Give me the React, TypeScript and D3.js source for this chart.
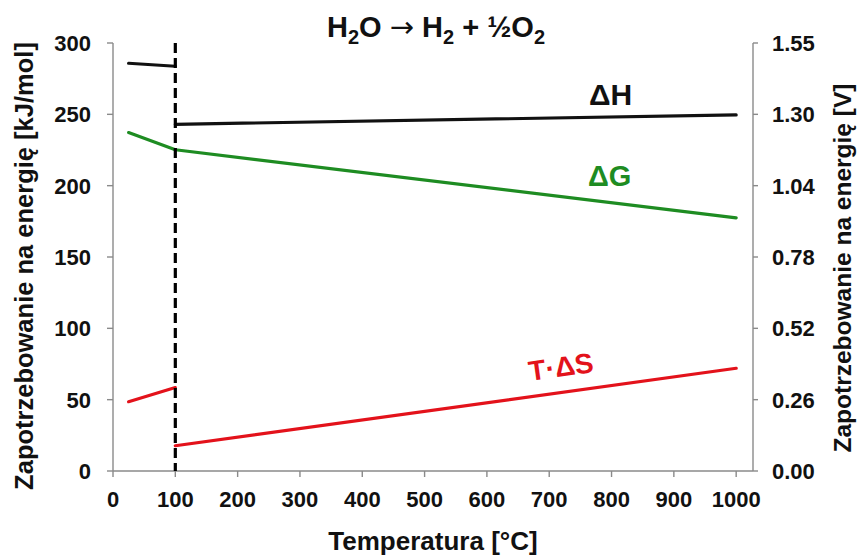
import React from "react";
import { scaleLinear, line } from "d3";

// temperatures [°C]
const liquidT = [25, 100];
const gasT = [100, 1000];

// energy demand [kJ/mol]
const dHLiquid = [285.8, 283.7];
const dHGas = [243.0, 249.6];
const dGLiquid = [237.2, 225.2];
const dGGas = [225.2, 177.4];
const tdsLiquid = [48.6, 58.5];
const tdsGas = [17.7, 72.0];

const xTicks = [0, 100, 200, 300, 400, 500, 600, 700, 800, 900, 1000];
const yLeftTicks = [0, 50, 100, 150, 200, 250, 300];
const yRightTicks = ["0.00", "0.26", "0.52", "0.78", "1.04", "1.30", "1.55"];

const FARADAY2 = 2 * 96.485; // kJ/mol per V

const W = 868;
const H = 556;
const font = "'Liberation Sans', Arial, sans-serif";
const axisColor = "#8a8a8a";
const green = "#1e8c22";
const red = "#e3121b";

const App = () => {
  const x = scaleLinear().domain([0, 1027]).range([113, 753]);
  const y = scaleLinear().domain([0, 300]).range([471, 43]);
  const yR = scaleLinear().domain([0, 300 / FARADAY2]).range([471, 43]);

  const path = line<[number, number]>()
    .x((d) => x(d[0]))
    .y((d) => y(d[1]));
  const seg = (ts: number[], vs: number[]) =>
    path(ts.map((t, i) => [t, vs[i]] as [number, number])) || "";

  const series = [
    { d: seg(liquidT, dHLiquid), c: "#111" },
    { d: seg(gasT, dHGas), c: "#111" },
    { d: seg(liquidT, dGLiquid), c: green },
    { d: seg(gasT, dGGas), c: green },
    { d: seg(liquidT, tdsLiquid), c: red },
    { d: seg(gasT, tdsGas), c: red },
  ];

  return (
    <svg
      width={W}
      height={H}
      style={{ position: "absolute", left: 0, top: 0, background: "#fff" }}
      fontFamily={font}
      fontWeight="bold"
    >
      {/* axes */}
      <g stroke={axisColor} strokeWidth={1.4} fill="none">
        <line x1={113} x2={113} y1={y(300)} y2={y(0)} />
        <line x1={753} x2={753} y1={yR(300 / FARADAY2)} y2={yR(0)} />
        <line x1={113} x2={753} y1={y(0)} y2={y(0)} />
        {yLeftTicks.map((t) => (
          <line key={"l" + t} x1={107} x2={113} y1={y(t)} y2={y(t)} />
        ))}
        {yRightTicks.map((t, i) => (
          <line key={"r" + t} x1={753} x2={758} y1={y(yLeftTicks[i])} y2={y(yLeftTicks[i])} />
        ))}
        {xTicks.map((t) => (
          <line key={"x" + t} x1={x(t)} x2={x(t)} y1={y(0)} y2={y(0) + 6} />
        ))}
      </g>

      {/* tick labels */}
      <g fontSize={22} fill="#111">
        {yLeftTicks.map((t) => (
          <text key={t} x={91} y={y(t) + 8} textAnchor="end">
            {t}
          </text>
        ))}
        {yRightTicks.map((t, i) => (
          <text key={t} x={772} y={y(yLeftTicks[i]) + 8}>
            {t}
          </text>
        ))}
        {xTicks.map((t) => (
          <text key={t} x={x(t)} y={507} textAnchor="middle">
            {t}
          </text>
        ))}
      </g>

      {/* data */}
      {series.map((s, i) => (
        <path key={i} d={s.d} fill="none" stroke={s.c} strokeWidth={3.2} strokeLinecap="round" />
      ))}

      {/* phase change at 100 °C */}
      <line
        x1={x(100)}
        x2={x(100)}
        y1={y(300)}
        y2={y(0)}
        stroke="#000"
        strokeWidth={3.2}
        strokeDasharray="10,5"
      />

      {/* series labels */}
      <text x={589} y={105} fontSize={30} fill="#111">ΔH</text>
      <text x={588} y={186} fontSize={29} fill={green}>ΔG</text>
      <text x={530} y={381} fontSize={28} fill={red} transform="rotate(-8 530 381)">
        T·ΔS
      </text>

      {/* title */}
      <text x={436} y={37} fontSize={29} textAnchor="middle" fill="#111">
        <tspan>H</tspan>
        <tspan fontSize={20} dy={7}>2</tspan>
        <tspan dy={-7}>O </tspan>
        <tspan fontFamily="'DejaVu Sans', sans-serif" fontWeight="normal">→</tspan>
        <tspan> H</tspan>
        <tspan fontSize={20} dy={7}>2</tspan>
        <tspan dy={-7}> + ½O</tspan>
        <tspan fontSize={20} dy={7}>2</tspan>
      </text>

      {/* axis titles */}
      <text x={433} y={550} fontSize={26} textAnchor="middle" fill="#111">
        Temperatura [°C]
      </text>
      <text
        transform="translate(33,266) rotate(-90)"
        fontSize={25.5}
        textAnchor="middle"
        fill="#111"
      >
        Zapotrzebowanie na energię [kJ/mol]
      </text>
      <text
        transform="translate(851,268) rotate(-90)"
        fontSize={24.5}
        textAnchor="middle"
        fill="#111"
      >
        Zapotrzebowanie na energię [V]
      </text>
    </svg>
  );
};

export default App;
